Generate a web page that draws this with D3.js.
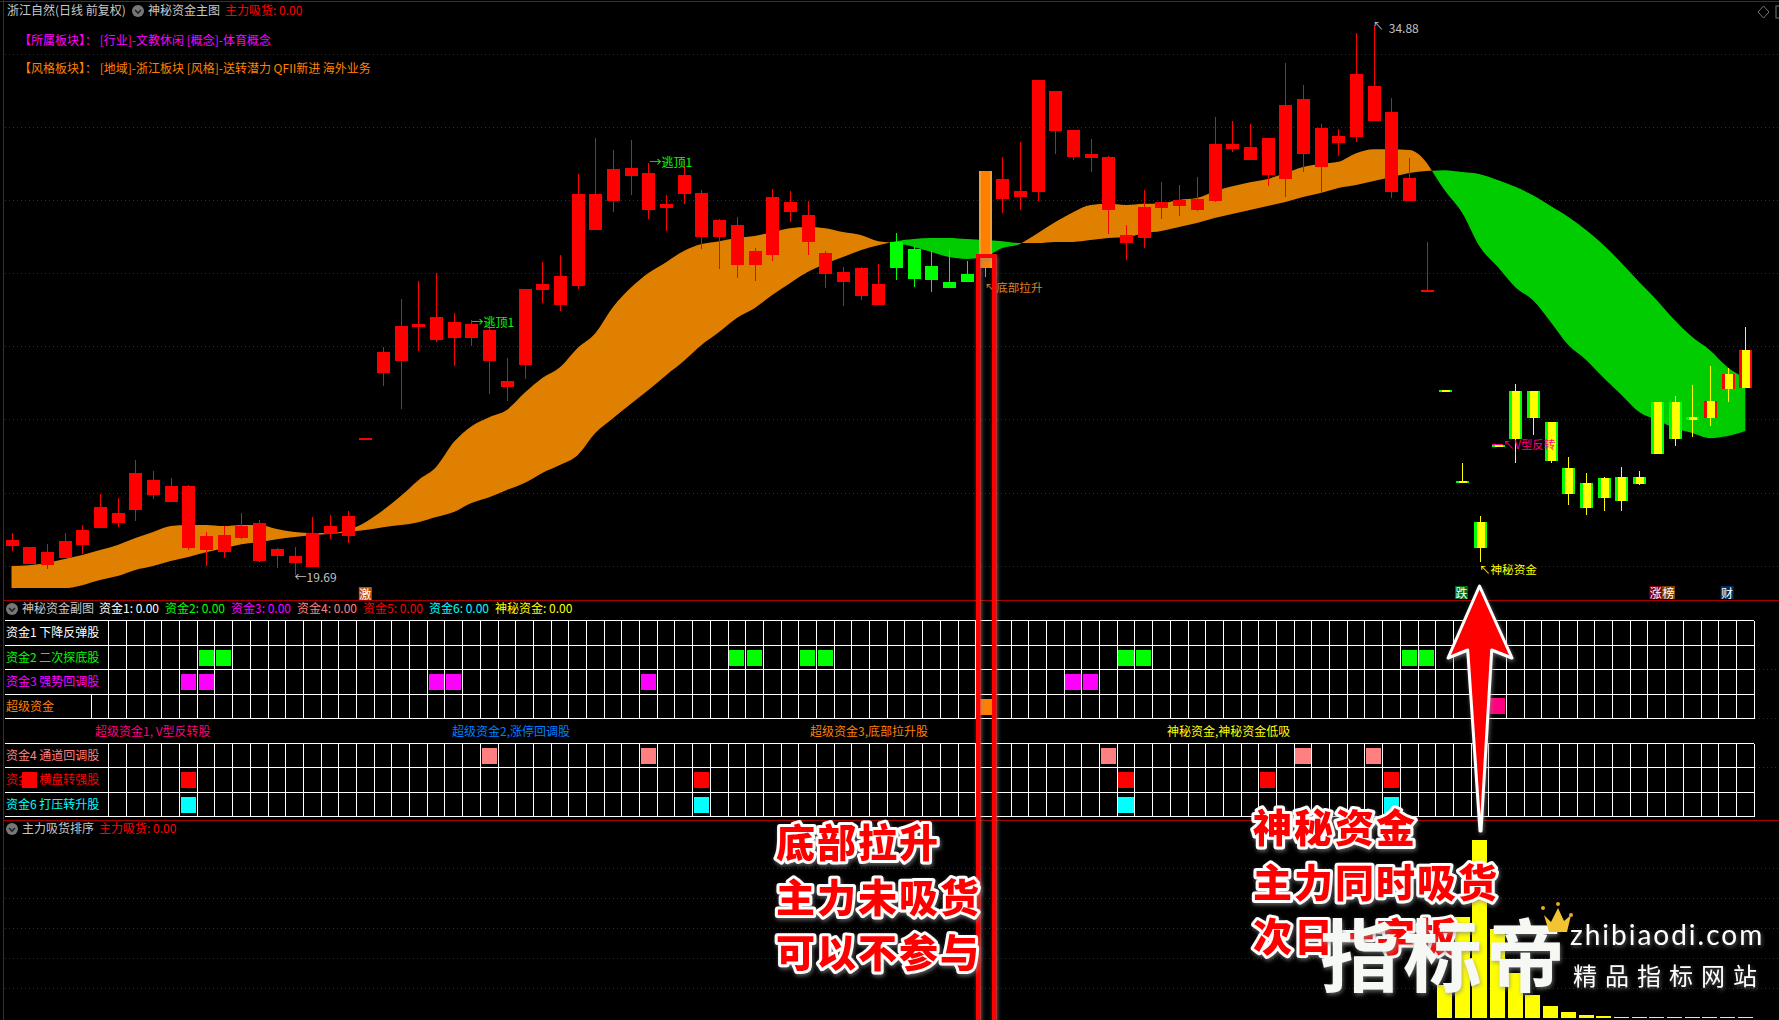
<!DOCTYPE html>
<html><head><meta charset="utf-8">
<script src="https://cdn.jsdelivr.net/npm/d3@7/dist/d3.min.js"></script>
<style>html,body{margin:0;padding:0;background:#000;overflow:hidden}svg{display:block}
text{font-family:"Noto Sans CJK SC","DejaVu Sans",sans-serif}</style></head><body>
<svg id="c" width="1779" height="1020" viewBox="0 0 1779 1020"></svg>
<script>
// ---------- data ----------
const opens=[20.49,19.99,19.96,20.16,20.52,20.99,21.12,21.48,21.90,21.70,20.43,20.38,20.32,20.71,20.08,20.21,20.02,19.91,20.82,20.77,23.47,25.27,25.60,26.54,26.18,26.23,26.23,25.60,24.88,25.49,27.56,27.15,27.67,29.22,30.02,30.71,29.77,29.83,30.21,29.02,29.02,28.25,28.25,28.53,29.71,28.89,28.00,27.78,27.39,27.15,28.89,28.69,28.22,27.78,28.00,28.17,30.07,30.13,30.27,31.95,31.23,31.21,29.77,28.86,29.00,29.83,29.88,29.77,30.02,31.45,31.15,30.74,30.63,31.32,30.96,31.62,31.79,32.23,30.27,30.02,27.56,24.80,22.28,21.15,23.28,24.77,24.77,23.91,22.64,22.23,22.37,22.40,22.40,24.47,24.47,24.05,24.02,24.83,24.85];
const closes=[20.66,20.46,20.32,20.63,20.93,21.57,21.40,22.51,22.31,22.15,22.15,20.77,20.79,21.04,21.12,20.41,20.21,20.85,21.04,21.32,23.47,25.85,26.57,26.62,26.81,26.68,26.62,26.46,25.05,27.59,27.73,27.95,30.21,30.21,30.90,30.93,30.79,29.94,30.74,30.24,29.49,29.36,28.64,30.13,29.99,29.63,28.58,28.06,28.17,27.73,28.17,27.86,27.84,27.62,27.78,30.85,30.63,30.29,33.36,33.06,31.98,31.32,31.23,29.08,29.85,29.99,30.05,30.07,31.59,31.59,31.51,31.76,32.67,32.84,32.03,31.81,33.53,33.19,32.48,30.65,27.56,24.80,22.28,20.43,23.28,23.44,24.02,22.84,21.93,21.54,21.82,21.73,22.20,23.03,23.44,23.97,24.49,25.24,25.90];
const highs=[20.85,20.46,20.54,20.85,21.07,21.93,21.82,22.86,22.56,22.37,22.17,20.88,21.04,21.40,21.21,20.43,20.46,21.29,21.35,21.46,23.47,25.99,27.31,27.81,28.03,26.92,26.73,26.59,25.68,27.59,28.33,28.53,30.76,31.76,31.43,31.70,31.07,30.18,31.15,30.32,29.52,29.58,28.72,30.35,30.29,30.02,28.64,28.20,28.20,28.28,29.13,28.75,28.64,28.66,28.36,30.85,31.23,31.65,33.36,33.06,31.98,31.73,31.26,29.36,30.32,30.54,30.46,30.68,32.34,32.23,32.15,31.76,33.83,33.22,32.15,32.01,34.66,34.88,32.86,31.21,28.89,24.80,22.78,21.32,23.28,24.96,24.77,23.91,22.95,22.51,22.40,22.67,22.56,24.47,24.63,24.94,25.46,25.41,26.54];
const lows=[20.35,19.99,19.85,20.16,20.27,20.99,21.01,21.18,21.79,21.70,20.38,19.94,20.16,20.68,20.05,19.88,19.69,19.91,20.68,20.57,23.47,24.91,24.27,25.88,26.12,25.46,26.01,24.69,24.49,25.10,27.20,26.98,27.59,29.22,29.71,30.18,29.52,29.19,29.94,28.69,28.14,27.89,27.81,28.36,29.44,28.53,27.62,27.12,27.28,27.15,27.84,27.64,27.50,27.62,27.78,27.92,29.69,29.77,30.02,31.32,31.15,30.82,29.11,28.39,28.72,29.52,29.60,29.74,29.99,31.37,31.15,30.43,30.13,30.82,30.24,31.26,31.65,32.23,30.10,30.02,27.56,24.80,22.28,20.05,23.28,22.78,23.56,22.78,21.62,21.35,21.46,21.46,22.17,23.03,23.25,23.50,23.80,24.47,24.85];
const fastLine=[19.94,19.96,20.02,20.13,20.24,20.38,20.52,20.71,20.88,21.04,21.07,21.07,21.04,21.07,21.07,20.96,20.88,20.85,20.85,20.93,21.15,21.48,21.87,22.31,22.67,23.36,23.80,24.05,24.25,24.72,25.13,25.43,25.96,26.37,27.09,27.62,28.03,28.33,28.64,28.83,28.91,29.00,29.05,29.16,29.27,29.30,29.27,29.16,29.08,28.91,28.86,28.75,28.61,28.47,28.42,28.47,28.72,28.83,29.13,29.44,29.71,29.91,29.94,29.91,29.94,29.96,30.05,30.10,30.29,30.43,30.54,30.63,30.79,30.96,31.04,31.10,31.34,31.45,31.45,31.43,31.07,30.32,29.69,28.75,28.20,27.64,27.28,26.68,26.04,25.63,25.13,24.66,24.19,23.97,23.75,23.61,23.47,23.53,23.67];
const slowLine=[19.33,19.33,19.33,19.33,19.41,19.55,19.66,19.83,19.94,20.08,20.19,20.32,20.43,20.54,20.60,20.68,20.74,20.79,20.82,20.88,20.93,21.01,21.07,21.15,21.29,21.43,21.68,21.84,22.04,22.23,22.51,22.73,23.00,23.61,24.02,24.41,24.80,25.21,25.60,26.04,26.40,26.79,27.06,27.42,27.75,28.06,28.28,28.47,28.66,28.80,28.91,28.97,29.00,29.00,28.97,28.94,28.91,28.86,28.86,28.89,28.89,28.94,29.00,29.02,29.13,29.19,29.30,29.41,29.55,29.66,29.77,29.88,29.99,30.13,30.24,30.38,30.46,30.57,30.68,30.79,30.85,30.87,30.82,30.76,30.60,30.41,30.18,29.88,29.58,29.22,28.80,28.31,27.78,27.28,26.73,26.26,25.90,25.43,25.13];
const gridPrices=[34.08,32.06,30.05,28.03,26.01,24.00,21.95,19.94];
const lowPrice=19.69, highPrice=34.88;
const absorbStart=81;
const absorb=[18.5,56.7,100,50,25.3,12.9,6.7,3.4,1.7,1.1,0.5,0.5,0.5,0.5,0.5,0.5,0.5,0.5];
const absorbTicks=[84,67.5,50.5,33.7,16.9];
const rows1=[
 {label:"资金1 下降反弹股",color:"#ffffff",on:[]},
 {label:"资金2 二次探底股",color:"#00ff00",on:[11,12,41,42,45,46,63,64,79,80]},
 {label:"资金3 强势回调股",color:"#ff00ff",on:[10,11,24,25,36,60,61]},
 {label:"超级资金",color:"#ff8000",on:[55]}];
const rows2=[
 {label:"资金4 通道回调股",color:"#ff8080",on:[27,36,62,73,77]},
 {label:"资金5 横盘转强股",color:"#ff0000",on:[1,10,39,63,71,78]},
 {label:"资金6 打压转升股",color:"#00ffff",on:[10,39,63,78]}];
const superPinkIndex=84;
const midLabels=[["超级资金1, V型反转股","#ff0080",95],["超级资金2,涨停回调股","#0080ff",452],["超级资金3,底部拉升股","#ff8000",810],["神秘资金,神秘资金低吸","#ffff00",1167]];
const legendItems=[["资金1: 0.00","#ffffff",99],["资金2: 0.00","#00ff00",165],["资金3: 0.00","#ff00ff",231],["资金4: 0.00","#ff8080",297],["资金5: 0.00","#ff0000",363],["资金6: 0.00","#00ffff",429],["神秘资金: 0.00","#ffff00",495]];
// ---------- scales ----------
const svg=d3.select("#c");
const x=d3.scaleLinear().domain([0,98]).range([11.5,1745.3]);
const y=d3.scaleLinear().domain([lowPrice,highPrice]).range([575,25]);
const yA=d3.scaleLinear().domain([0,100]).range([1018,840]);
const DARK="#a80000";
function T(g,s,px,py,col,size,extra){const t=g.append("text").attr("x",px).attr("y",py-1.4).attr("fill",col).attr("font-size",size||12).attr("dominant-baseline","central").text(s);if(extra)extra(t);return t;}
const defs=svg.append("defs");
const f2=defs.append("filter").attr("id","gl").attr("x","-20%").attr("y","-30%").attr("width","140%").attr("height","160%");
f2.append("feDropShadow").attr("dx",1).attr("dy",2).attr("stdDeviation",2).attr("flood-color","#888").attr("flood-opacity",.7);

svg.append("rect").attr("width",1779).attr("height",1020).attr("fill","#000");
// frame
const frame=svg.append("g").attr("stroke",DARK).attr("shape-rendering","crispEdges");
frame.append("line").attr("x1",0).attr("x2",1779).attr("y1",1.5).attr("y2",1.5);
frame.append("line").attr("x1",3.5).attr("x2",3.5).attr("y1",0).attr("y2",1020);
frame.append("line").attr("x1",3).attr("x2",1779).attr("y1",600.5).attr("y2",600.5);
frame.append("line").attr("x1",3).attr("x2",1779).attr("y1",820.5).attr("y2",820.5);
// dotted grids
const dots=svg.append("g").attr("stroke","#a00000").attr("stroke-dasharray","1 3").attr("shape-rendering","crispEdges");
gridPrices.forEach(p=>dots.append("line").attr("x1",5).attr("x2",1779).attr("y1",Math.round(y(p))+.5).attr("y2",Math.round(y(p))+.5));
absorbTicks.forEach(v=>dots.append("line").attr("x1",5).attr("x2",1779).attr("y1",Math.round(yA(v))+.5).attr("y2",Math.round(yA(v))+.5));
[669.5,718.5,767.5].forEach(v=>dots.append("line").attr("x1",1755).attr("x2",1779).attr("y1",v).attr("y2",v));
// ribbon: runs of fast above/below slow, closed at the crossing
const idx=d3.range(fastLine.length);
const area=d3.area().curve(d3.curveMonotoneX).x(d=>x(d.t)).y0(d=>y(d.f)).y1(d=>y(d.s));
const ribbon=svg.append("g");
let run=[{t:0,f:fastLine[0],s:slowLine[0]}];
function flush(up){ribbon.append("path").attr("d",area(run)).attr("fill",up?"#e08000":"#00cc00");}
for(let i=1;i<idx.length;i++){
  const a=fastLine[i-1]-slowLine[i-1],b=fastLine[i]-slowLine[i];
  if((a>=0)!==(b>=0)){
    const k=a/(a-b),t=i-1+k,v=slowLine[i-1]+(slowLine[i]-slowLine[i-1])*k,cross={t:t,f:v,s:v};
    run.push(cross);flush(a>=0);run=[cross];
  }
  run.push({t:i,f:fastLine[i],s:slowLine[i]});
}
flush(fastLine[idx.length-1]>=slowLine[idx.length-1]);
// candles
const W=13;
const cg=svg.append("g").attr("shape-rendering","crispEdges");
idx.forEach(i=>{
  const o=opens[i],c=closes[i],h=highs[i],l=lows[i];
  const top=y(Math.max(o,c)),bot=y(Math.min(o,c)),cx=Math.round(x(i));
  const special=i===55,yellowZone=i>=absorbStart;
  const edge=special?"#f0a030":yellowZone?(c<=o?"#00ff00":"#ff0000"):(c<o?"#00ff00":"#ff0000");
  const wick=special?"#ff8000":yellowZone?"#ffff00":edge;
  cg.append("rect").attr("x",cx).attr("width",1.4).attr("y",y(h)).attr("height",Math.max(y(l)-y(h),1)).attr("fill",wick);
  cg.append("rect").attr("x",cx-W/2+.7).attr("width",W).attr("y",top).attr("height",Math.max(bot-top,2)).attr("fill",edge);
  if(special) cg.append("rect").attr("x",cx-W/2+2.7).attr("width",W-4).attr("y",top).attr("height",bot-top).attr("fill","#ff8000");
  if(yellowZone) cg.append("rect").attr("x",cx-W/2+3).attr("width",W-4.6).attr("y",top).attr("height",Math.max(bot-top,2)).attr("fill","#ffff00");
});
// header texts
const tg=svg.append("g");
function knob(g,cx,cy){g.append("circle").attr("cx",cx).attr("cy",cy).attr("r",6).attr("fill","#777");
  g.append("path").attr("d",`M${cx-3} ${cy-1}L${cx} ${cy+2}L${cx+3} ${cy-1}`).attr("stroke","#222").attr("stroke-width",1.6).attr("fill","none");}
T(tg,"浙江自然(日线 前复权)",7,11,"#c8c8c8",12);
knob(tg,138,11);
T(tg,"神秘资金主图",148,11,"#c8c8c8");
T(tg,"主力吸货: 0.00",225,11,"#ff0000");
T(tg,"【所属板块】： [行业]-文教休闲 [概念]-体育概念",19,41,"#ff00ff");
T(tg,"【风格板块】： [地域]-浙江板块 [风格]-送转潜力 QFII新进 海外业务",19,69,"#ff8000");
// price marks
T(tg,"←19.69",x(16)+38-38,578,"#c0c0c0");
T(tg,"↖",x(77)-1,26,"#c0c0c0",11);
T(tg,"34.88",x(77)+15,28.5,"#c0c0c0");
T(tg,"→逃顶1",x(26)+0,323,"#00ff00");
T(tg,"→逃顶1",x(36)+1,163,"#00ff00");
T(tg,"↖底部拉升",x(55)+0,288,"#e08020",11.6);
T(tg,"↖神秘资金",x(83)-1,570,"#ffff00",11.6);
T(tg,"一↖V型反转",x(84)-6,445,"#ff0080",11.4);
// chips
function chip(s,i,py,fill,off){const cx=x(i)+(off||0);tg.append("rect").attr("x",cx-6.5).attr("y",py).attr("width",13).attr("height",13).attr("fill",fill);
  T(tg,s,cx,py+7.5,"#fff",12,t=>t.attr("text-anchor","middle"));}
chip("激",20,587,"#c05010");
chip("跌",82,586,"#006a10",-.8);
chip("涨",93,586,"#800010",-1);
chip("榜",94,586,"#804000",-6);
chip("财",97,586,"#003060",-.5);
tg.append("path").attr("d","M1763.5 6L1769 12L1763.5 18L1758 12Z").attr("fill","none").attr("stroke","#777");
tg.append("rect").attr("x",1776).attr("y",6).attr("width",6).attr("height",12).attr("fill","none").attr("stroke","#777");
// panel 2
const p2=svg.append("g");
knob(p2,12,609);
T(p2,"神秘资金副图",22,609,"#c8c8c8");
legendItems.forEach(d=>T(p2,d[0],d[2],609,d[1]));
const gridL=5,gridR=x(98.5);
function block(rows,edges){
  const g=p2.append("g").attr("shape-rendering","crispEdges");
  edges.forEach(e=>g.append("line").attr("x1",gridL).attr("x2",gridR).attr("y1",e).attr("y2",e).attr("stroke","#fff"));
  d3.range(4.5,99).forEach(k=>g.append("line").attr("x1",x(k)).attr("x2",x(k)).attr("y1",edges[0]).attr("y2",edges[edges.length-1]).attr("stroke","#fff"));
  rows.forEach((r,ri)=>{
    const cy=(edges[ri]+edges[ri+1])/2;
    const bg=g.append("rect").attr("x",gridL).attr("y",edges[ri]+.5).attr("height",edges[ri+1]-edges[ri]-1).attr("fill","#000");
    const t=T(p2,r.label,6,cy,r.color,12);
    bg.attr("width",Math.max(t.node().getComputedTextLength()+2,10));
  });
  rows.forEach((r,ri)=>{
    const cy=(edges[ri]+edges[ri+1])/2;
    r.on.forEach(i=>p2.append("rect").attr("shape-rendering","crispEdges").attr("x",x(i)-7.6).attr("width",15.2).attr("y",cy-8).attr("height",16).attr("fill",r.color));
  });
}
block(rows1,[620.5,645.5,669.5,694.5,718.5]);
block(rows2,[743.5,767.5,792.5,816.5]);
p2.append("rect").attr("shape-rendering","crispEdges").attr("x",x(superPinkIndex)-7.6).attr("width",15.2).attr("y",698).attr("height",16).attr("fill","#ff0080");
midLabels.forEach(d=>T(p2,d[0],d[2],732,d[1]));
// panel 3
const p3=svg.append("g");
knob(p3,12,829);
T(p3,"主力吸货排序",22,829,"#c8c8c8");
T(p3,"主力吸货: 0.00",99,829,"#ff0000");
absorb.forEach((v,k)=>{const i=absorbStart+k;
  p3.append("rect").attr("shape-rendering","crispEdges").attr("x",x(i)-7.5).attr("width",15).attr("y",yA(v)).attr("height",yA(0)-yA(v)).attr("fill","#ffff00");});
// overlays
const ov=svg.append("g");
const redBox=ov.append("g").attr("filter","url(#gl)");
[976,992].forEach(px=>redBox.append("rect").attr("x",px).attr("y",254).attr("width",4.6).attr("height",766).attr("fill","#ff0000"));
redBox.append("rect").attr("x",976).attr("y",254).attr("width",20.6).attr("height",4).attr("fill","#ff0000");
function big(s,px,py){T(ov,s,px,py,"#ff0000",39,t=>t.attr("font-weight",900).attr("letter-spacing",2).attr("stroke","#fff").attr("stroke-width",6).attr("stroke-linejoin","round").attr("paint-order","stroke").attr("filter","url(#gl)"));}
big("底部拉升",776,841.5);big("主力未吸货",776,896.5);big("可以不参与",776,951);
big("神秘资金",1253,826.5);big("主力同时吸货",1253,881);big("次日一字板",1253,935.5);
ov.append("path").attr("d","M1479.5 586L1512 658L1491.7 650L1481 831L1480 831L1467.7 650L1448 658Z").attr("fill","#ff0000").attr("stroke","#fff").attr("stroke-width",3).attr("stroke-linejoin","round").attr("filter","url(#gl)");
// watermark
T(ov,"指标帝",1320,953,"#f6f8f4",79,t=>t.attr("font-weight",700).attr("letter-spacing",4).attr("filter","url(#gl)"));
ov.append("path").attr("d","M1544 915L1551 922L1558 908L1564 921L1571 915L1567 932L1549 932Z").attr("fill","#f2c433");
[[1543,908],[1558,904],[1571,915]].forEach(c=>ov.append("circle").attr("cx",c[0]).attr("cy",c[1]).attr("r",2).attr("fill","#e8a820"));
T(ov,"zhibiaodi.com",1570,935,"#fff",28,t=>t.style("font-family","Lato,'Noto Sans'").attr("letter-spacing",2).attr("filter","url(#gl)"));
T(ov,"精品指标网站",1573,976,"#fff",24,t=>t.attr("letter-spacing",8).attr("filter","url(#gl)"));
</script></body></html>
